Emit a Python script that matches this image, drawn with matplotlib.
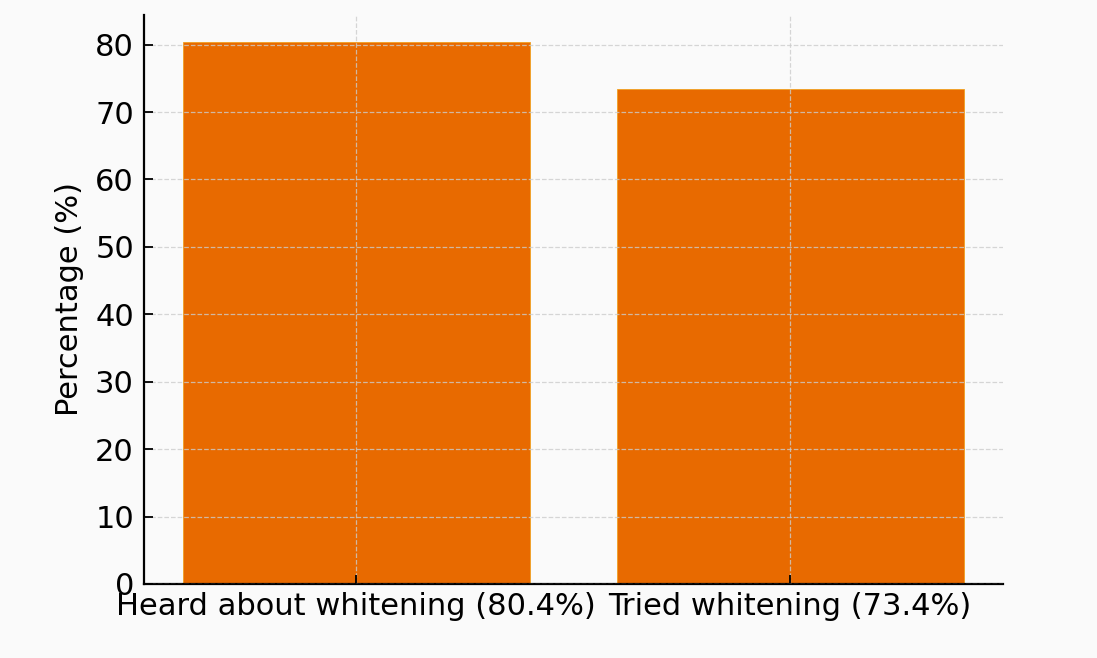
import matplotlib.pyplot as plt

# survey answers
categories = ['Heard about whitening (80.4%)', 'Tried whitening (73.4%)']
percent = [80.4, 73.4]

fig = plt.figure(figsize=(10.97, 6.58), dpi=100, facecolor='#fafafa')
ax = fig.add_axes([0.131, 0.1125, 0.783, 0.865])
ax.set_facecolor('#fafafa')

ax.bar(categories, percent, width=0.8, color='#e86a00', edgecolor='#f0a020', linewidth=0.6)

ax.grid(True, linestyle='--', color='#cccccc', linewidth=0.9, alpha=0.8)
ax.set_axisbelow(False)

ax.spines['top'].set_visible(False)
ax.spines['right'].set_visible(False)
ax.spines['left'].set_linewidth(1.6)
ax.spines['bottom'].set_linewidth(1.6)

ax.tick_params(direction='in', length=6.5, width=1.3, labelsize=22)
ax.tick_params(axis='y', pad=7)
ax.tick_params(axis='x', pad=6)
ax.set_ylabel('Percentage (%)', fontsize=22, labelpad=8)

fig.savefig('out.png', dpi=100, facecolor=fig.get_facecolor())
